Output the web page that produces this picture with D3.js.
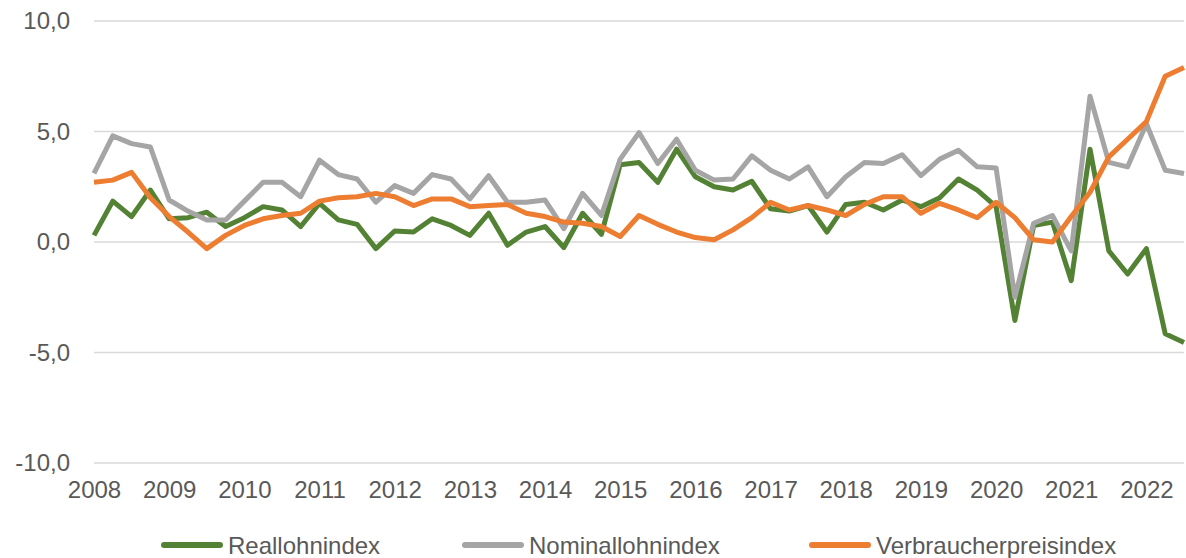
<!DOCTYPE html>
<html>
<head>
<meta charset="utf-8">
<script src="https://cdn.jsdelivr.net/npm/d3@7"></script>
<style>
  html, body { margin: 0; padding: 0; background: #fff; }
  svg { display: block; font-family: "Liberation Sans", Arial, sans-serif; }
</style>
</head>
<body>
<svg id="chart" width="1186" height="558"></svg>
<script>
// Quarterly data, 2008 Q1 .. 2022 Q3 (change vs. previous year, %)
const yearLabels = ["2008","2009","2010","2011","2012","2013","2014","2015","2016","2017","2018","2019","2020","2021","2022"];
const quarters = [];
yearLabels.forEach(y => ["Q1","Q2","Q3","Q4"].forEach(q => quarters.push(y + " " + q)));
quarters.length = 59; // last one is 2022 Q3

const reallohn = [
  0.3, 1.85, 1.15, 2.35, 1.05, 1.1, 1.35, 0.7, 1.1, 1.6, 1.45, 0.7,
  1.75, 1.0, 0.8, -0.3, 0.5, 0.45, 1.05, 0.75, 0.3, 1.3, -0.15, 0.45,
  0.7, -0.25, 1.3, 0.35, 3.5, 3.6, 2.7, 4.2, 2.95, 2.5, 2.35, 2.75,
  1.5, 1.4, 1.65, 0.45, 1.7, 1.8, 1.45, 1.9, 1.6, 2.0, 2.85, 2.35,
  1.6, -3.55, 0.75, 0.9, -1.75, 4.2, -0.4, -1.45, -0.3, -4.15, -4.55
];
const nominallohn = [
  3.1, 4.8, 4.45, 4.3, 1.9, 1.4, 1.0, 1.0, 1.85, 2.7, 2.7, 2.05,
  3.7, 3.05, 2.85, 1.8, 2.55, 2.2, 3.05, 2.85, 1.95, 3.0, 1.8, 1.8,
  1.9, 0.6, 2.2, 1.2, 3.75, 4.95, 3.55, 4.65, 3.25, 2.8, 2.85, 3.9,
  3.25, 2.85, 3.4, 2.05, 2.95, 3.6, 3.55, 3.95, 3.0, 3.75, 4.15, 3.4,
  3.35, -2.5, 0.85, 1.2, -0.4, 6.6, 3.6, 3.4, 5.35, 3.25, 3.1
];
const vpi = [
  2.7, 2.8, 3.15, 2.0, 1.15, 0.45, -0.3, 0.3, 0.75, 1.05, 1.2, 1.3,
  1.85, 2.0, 2.05, 2.2, 2.05, 1.65, 1.95, 1.95, 1.6, 1.65, 1.7, 1.3,
  1.15, 0.9, 0.85, 0.7, 0.25, 1.2, 0.8, 0.45, 0.2, 0.1, 0.55, 1.1,
  1.8, 1.45, 1.65, 1.45, 1.2, 1.7, 2.05, 2.05, 1.3, 1.75, 1.45, 1.1,
  1.8, 1.1, 0.1, 0.0, 1.15, 2.25, 3.85, 4.65, 5.45, 7.5, 7.9
];
const yTicks = [10, 5, 0, -5, -10];

const series = [
  { name: "Reallohnindex", values: reallohn, color: "#548235" },
  { name: "Nominallohnindex", values: nominallohn, color: "#a5a5a5" },
  { name: "Verbraucherpreisindex", values: vpi, color: "#ed7d31" }
];

const svg = d3.select("#chart");
const plotLeft = 94, plotRight = 1184, plotTop = 21, plotBottom = 463;

const x = d3.scaleLinear().domain([0, quarters.length - 1]).range([plotLeft, plotRight]);
const y = d3.scaleLinear().domain([-10, 10]).range([plotBottom, plotTop]);

// horizontal gridlines
svg.append("g")
  .selectAll("line")
  .data(yTicks)
  .join("line")
  .attr("x1", plotLeft)
  .attr("x2", plotRight)
  .attr("y1", d => y(d))
  .attr("y2", d => y(d))
  .attr("stroke", "#d9d9d9")
  .attr("stroke-width", 1.5);

// y axis labels
const fmt = d => d.toFixed(1).replace(".", ",");
const yAxis = svg.append("g")
  .attr("transform", `translate(${plotLeft - 24},0)`)
  .call(d3.axisLeft(y).tickValues(yTicks).tickFormat(fmt).tickSize(0).tickPadding(0));
yAxis.select(".domain").remove();
yAxis.selectAll("text")
  .attr("fill", "#595959")
  .attr("font-size", 24)
  .attr("font-family", "Liberation Sans, Arial, sans-serif");

// x axis labels: one per year, at the first quarter
const xAxis = svg.append("g")
  .attr("transform", `translate(0,${plotBottom + 4})`)
  .call(d3.axisBottom(x)
    .tickValues(yearLabels.map((d, i) => i * 4))
    .tickFormat((d, i) => yearLabels[i])
    .tickSize(0)
    .tickPadding(14));
xAxis.select(".domain").remove();
xAxis.selectAll("text")
  .attr("fill", "#595959")
  .attr("font-size", 24)
  .attr("font-family", "Liberation Sans, Arial, sans-serif");

// lines
const line = d3.line()
  .x((d, i) => x(i))
  .y(d => y(d));

svg.append("g")
  .selectAll("path")
  .data(series)
  .join("path")
  .attr("d", d => line(d.values))
  .attr("fill", "none")
  .attr("stroke", d => d.color)
  .attr("stroke-width", 5)
  .attr("stroke-linejoin", "round")
  .attr("stroke-linecap", "butt");

// legend
const legendX = [162, 463, 810];
const legend = svg.append("g")
  .selectAll("g")
  .data(series)
  .join("g")
  .attr("transform", (d, i) => `translate(${legendX[i]},545)`);

legend.append("line")
  .attr("x1", 2)
  .attr("x2", 58)
  .attr("stroke", d => d.color)
  .attr("stroke-width", 6)
  .attr("stroke-linecap", "round");

legend.append("text")
  .attr("x", 66)
  .attr("dy", "0.36em")
  .attr("fill", "#595959")
  .attr("font-size", 24)
  .text(d => d.name);
</script>
</body>
</html>
